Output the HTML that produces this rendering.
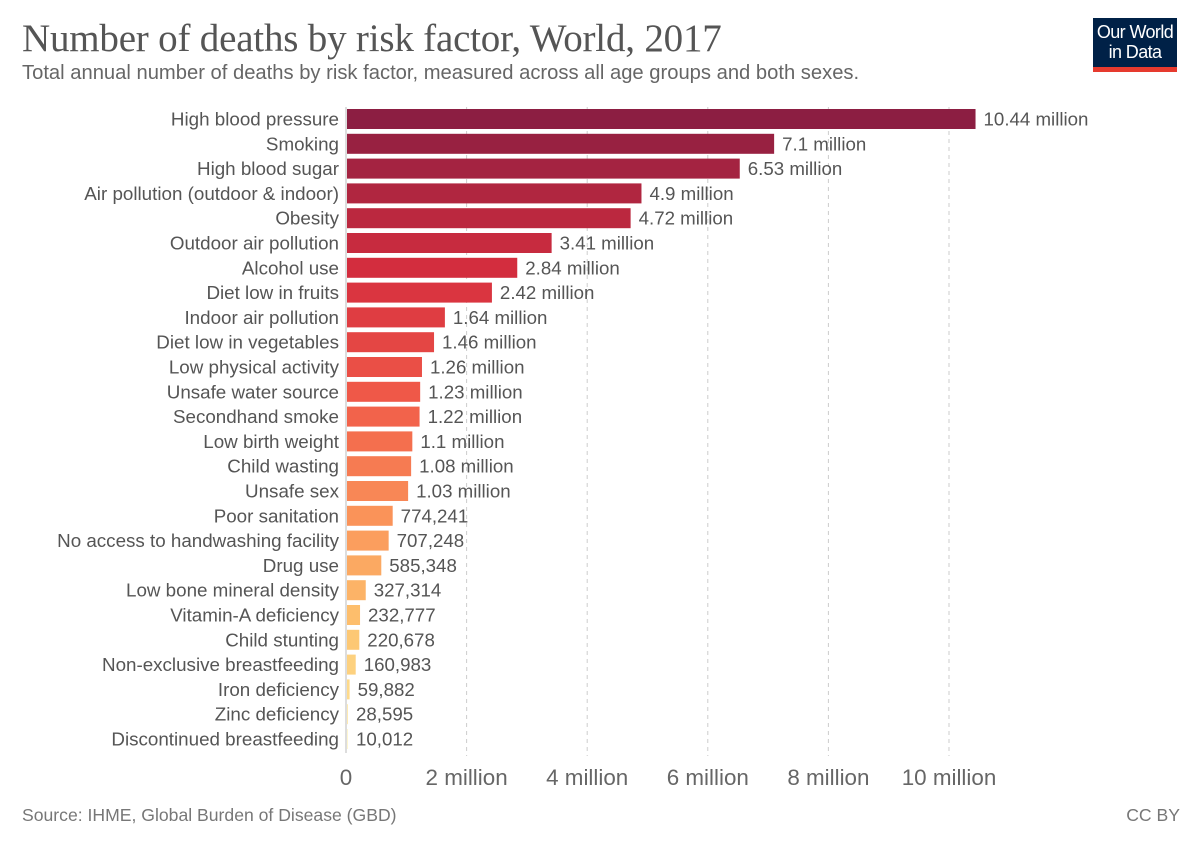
<!DOCTYPE html>
<html><head><meta charset="utf-8">
<style>
body{margin:0;background:#fff;font-family:"Liberation Sans",sans-serif;}
#wrap{position:relative;width:1200px;height:847px;overflow:hidden;}
h1{position:absolute;left:22px;top:16px;margin:0;font-family:"Liberation Serif",serif;font-weight:normal;font-size:39px;color:#555;letter-spacing:-0.2px}
.sub{position:absolute;left:22px;top:62px;font-size:20.2px;color:#666;}
.logo{position:absolute;left:1093px;top:18px;width:84px;height:54px;background:#002147;color:#fff;font-size:18px;line-height:20px;text-align:center;padding-top:4px;box-sizing:border-box;letter-spacing:-0.6px}
.logo:after{content:"";position:absolute;left:0;bottom:0;width:84px;height:5px;background:#e63a2e}
.foot{position:absolute;top:805px;font-size:17.6px;color:#777;}
</style></head><body>
<div id="wrap">
<h1>Number of deaths by risk factor, World, 2017</h1>
<div class="sub">Total annual number of deaths by risk factor, measured across all age groups and both sexes.</div>
<div class="logo">Our World<br>in Data</div>
<svg id="svg" width="1200" height="847" style="position:absolute;left:0;top:0"></svg>
<div class="foot" style="left:22px">Source: IHME, Global Burden of Disease (GBD)</div>
<div class="foot" style="right:20px">CC BY</div>
</div>
<script>
const categories=["High blood pressure","Smoking","High blood sugar","Air pollution (outdoor & indoor)","Obesity","Outdoor air pollution","Alcohol use","Diet low in fruits","Indoor air pollution","Diet low in vegetables","Low physical activity","Unsafe water source","Secondhand smoke","Low birth weight","Child wasting","Unsafe sex","Poor sanitation","No access to handwashing facility","Drug use","Low bone mineral density","Vitamin-A deficiency","Child stunting","Non-exclusive breastfeeding","Iron deficiency","Zinc deficiency","Discontinued breastfeeding"];
const values=[10440000,7100000,6530000,4900000,4720000,3410000,2840000,2420000,1640000,1460000,1260000,1230000,1220000,1100000,1080000,1030000,774241,707248,585348,327314,232777,220678,160983,59882,28595,10012];
const valueLabels=["10.44 million","7.1 million","6.53 million","4.9 million","4.72 million","3.41 million","2.84 million","2.42 million","1.64 million","1.46 million","1.26 million","1.23 million","1.22 million","1.1 million","1.08 million","1.03 million","774,241","707,248","585,348","327,314","232,777","220,678","160,983","59,882","28,595","10,012"];
const tickValues=[0,2000000,4000000,6000000,8000000,10000000];
const tickLabels=["0","2 million","4 million","6 million","8 million","10 million"];
const svg=document.getElementById('svg');
const NS='http://www.w3.org/2000/svg';
const x0=346,pxPer=60.3/1e6;
const xs=v=>x0+v*pxPer;
const y0=119,step=24.8;
const ys=i=>y0+i*step;
const stops=[[0,[140,30,66]],[0.25,[214,46,62]],[0.45,[240,90,72]],[0.65,[250,150,90]],[0.82,[253,195,110]],[1,[254,236,160]]];
function col(t){for(let k=1;k<stops.length;k++){if(t<=stops[k][0]){const a=stops[k-1],b=stops[k];const f=(t-a[0])/(b[0]-a[0]);return 'rgb('+a[1].map((c,j)=>Math.round(c+(b[1][j]-c)*f)).join(',')+')';}}}
function mk(tag,attrs){const e=document.createElementNS(NS,tag);for(const k in attrs)e.setAttribute(k,attrs[k]);svg.appendChild(e);return e;}
tickValues.forEach((v,i)=>{
 if(v>0){const g=mk('line',{x1:xs(v),x2:xs(v),y1:107,y2:756,stroke:'#ccc','stroke-dasharray':'4,4'});
 
 }
 const t=mk('text',{x:xs(v),y:785,'text-anchor':'middle','font-size':22.4,fill:'#666','font-family':'Liberation Sans, sans-serif'});
 t.textContent=tickLabels[i];
 
 
});
categories.forEach((c,i)=>{
 const y=ys(i);
 const r=mk('rect',{x:x0+1,y:y-10,width:Math.max(0.5,xs(values[i])-x0-1),height:20,fill:col(i/(categories.length-1))});
 
 
 const l=mk('text',{x:339,y:y+6.5,'text-anchor':'end','font-size':18.8,fill:'#555','font-family':'Liberation Sans, sans-serif'});
 l.textContent=c;
 
 
 const v=mk('text',{x:Math.max(xs(values[i]),x0+2)+8,y:y+6.5,'font-size':18.7,fill:'#555','font-family':'Liberation Sans, sans-serif'});
 v.textContent=valueLabels[i];
 
 
});
const ax=mk('line',{x1:x0,x2:x0,y1:107,y2:753,stroke:'#bbb','stroke-width':1});


</script>
</body></html>
